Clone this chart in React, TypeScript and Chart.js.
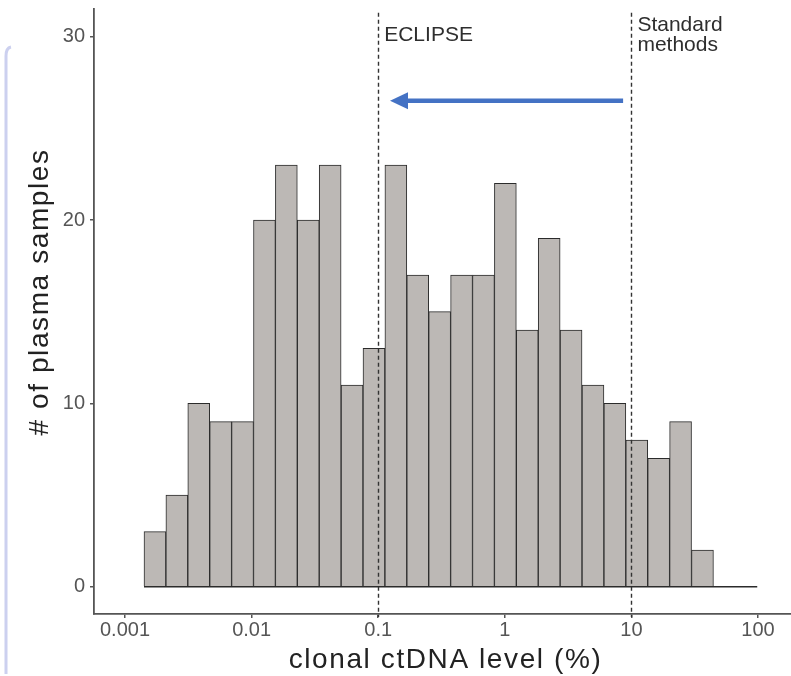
import React, { useEffect, useRef } from 'react';
import { Chart, registerables } from 'chart.js';

Chart.register(...registerables);

// ---- data ----
const counts = [3, 5, 10, 9, 9, 20, 23, 20, 23, 11, 13, 23, 17, 15, 17, 17, 22, 14, 19, 14, 11, 10, 8, 7, 9, 2, 0, 0];
const BIN_START_LOG = -2.85; // log10 of first bin's lower edge (%)
const BIN_WIDTH_LOG = 0.173; // bin width in decades

const xTickValues = [0.001, 0.01, 0.1, 1, 10, 100];
const xTickLabels = ['0.001', '0.01', '0.1', '1', '10', '100'];
const yTickValues = [0, 10, 20, 30];

const X_MIN = Math.pow(10, -3.2449);
const X_MAX = Math.pow(10, 2.2607);
const Y_MIN = -1.49;
const Y_MAX = 31.51;

const thresholdValues = [0.1, 10];
const thresholdLabels = [['ECLIPSE'], ['Standard', 'methods']];
const thresholdLabelY = [[29.77], [30.3, 29.22]];
const VLINE_TOP = 31.3;
const VLINE_BOTTOM = -1.65;

const ARROW_FROM = 8.6;
const ARROW_TO = 0.124;
const ARROW_Y = 26.5;

const X_TITLE = 'clonal ctDNA level (%)';
const Y_TITLE = '# of plasma samples';

// ---- derived chart tables ----
const binCenters = counts.map((_, i) => Math.pow(10, BIN_START_LOG + (i + 0.5) * BIN_WIDTH_LOG));
const barData = counts.map((c, i) => ({ x: binCenters[i], y: c > 0 ? c : null }));
const baselineData = [
  { x: Math.pow(10, BIN_START_LOG), y: 0 },
  { x: Math.pow(10, BIN_START_LOG + counts.length * BIN_WIDTH_LOG), y: 0 },
];

const FONT = '"Liberation Sans", Arial, Helvetica, sans-serif';

const annotationPlugin = {
  id: 'annotations',
  beforeDraw(chart: any) {
    const { ctx } = chart;
    ctx.save();
    ctx.fillStyle = '#ffffff';
    ctx.fillRect(0, 0, chart.width, chart.height);
    // faint slide border at the far left of the screenshot
    ctx.strokeStyle = '#ccd0ef';
    ctx.lineWidth = 3;
    ctx.beginPath();
    ctx.moveTo(11, 47);
    ctx.quadraticCurveTo(6, 48, 6, 56);
    ctx.lineTo(6, 674);
    ctx.stroke();
    ctx.restore();
  },
  afterDatasetsDraw(chart: any) {
    const { ctx, scales } = chart;
    const x = scales.x;
    const y = scales.y;
    ctx.save();
    // dashed threshold lines
    ctx.strokeStyle = '#333333';
    ctx.lineWidth = 1.4;
    ctx.setLineDash([4, 3]);
    thresholdValues.forEach((v) => {
      const px = Math.round(x.getPixelForValue(v)) + 0.5;
      ctx.beginPath();
      ctx.moveTo(px, y.getPixelForValue(VLINE_TOP));
      ctx.lineTo(px, y.getPixelForValue(VLINE_BOTTOM));
      ctx.stroke();
    });
    ctx.setLineDash([]);
    // labels
    ctx.fillStyle = '#2e2e2e';
    ctx.textAlign = 'left';
    ctx.textBaseline = 'alphabetic';
    ctx.font = `21px ${FONT}`;
    thresholdValues.forEach((v, i) => {
      const px = x.getPixelForValue(v) + 6;
      thresholdLabels[i].forEach((line, j) => {
        ctx.fillText(line, px, y.getPixelForValue(thresholdLabelY[i][j]));
      });
    });
    // blue arrow
    const ay = y.getPixelForValue(ARROW_Y);
    const x0 = x.getPixelForValue(ARROW_FROM);
    const x1 = x.getPixelForValue(ARROW_TO);
    ctx.strokeStyle = '#4472c4';
    ctx.fillStyle = '#4472c4';
    ctx.lineWidth = 4.5;
    ctx.beginPath();
    ctx.moveTo(x0, ay);
    ctx.lineTo(x1 + 14, ay);
    ctx.stroke();
    ctx.beginPath();
    ctx.moveTo(x1, ay);
    ctx.lineTo(x1 + 18, ay - 8.5);
    ctx.lineTo(x1 + 18, ay + 8.5);
    ctx.closePath();
    ctx.fill();
    ctx.restore();
  },
  afterDraw(chart: any) {
    const { ctx, chartArea } = chart;
    ctx.save();
    ctx.fillStyle = '#222222';
    ctx.font = `28px ${FONT}`;
    (ctx as any).letterSpacing = '1.6px';
    ctx.textAlign = 'center';
    ctx.textBaseline = 'middle';
    ctx.fillText(X_TITLE, (chartArea.left + chartArea.right) / 2 + 3, chart.height - 16);
    ctx.translate(40, chartArea.top + 283);
    ctx.rotate(-Math.PI / 2);
    ctx.fillText(Y_TITLE, 0, 0);
    ctx.restore();
  },
};

export default function App() {
  const ref = useRef<HTMLCanvasElement>(null);

  useEffect(() => {
    if (!ref.current) return;
    const chart = new Chart(ref.current, {
      type: 'bar',
      data: {
        datasets: [
          {
            type: 'bar',
            label: 'samples',
            data: barData as any,
            backgroundColor: '#bcb8b5',
            borderColor: '#2b2b2b',
            borderWidth: 1,
            borderSkipped: 'start',
            barPercentage: 1,
            categoryPercentage: 1,
            order: 1,
          } as any,
          {
            type: 'line',
            label: 'baseline',
            data: baselineData as any,
            borderColor: '#2b2b2b',
            borderWidth: 1.5,
            pointRadius: 0,
            fill: false,
            order: 0,
          } as any,
        ],
      },
      options: {
        responsive: false,
        animation: false,
        devicePixelRatio: 1,
        layout: { padding: { top: 9, left: 0, right: 0, bottom: 0 } },
        plugins: {
          legend: { display: false },
          tooltip: { enabled: false },
          title: { display: false },
        },
        scales: {
          x: {
            type: 'logarithmic',
            min: X_MIN,
            max: X_MAX,
            bounds: 'data',
            offset: false,
            afterBuildTicks: (s: any) => {
              s.ticks = xTickValues.map((v) => ({ value: v }));
            },
            afterFit: (s: any) => {
              s.height = 62;
              s.paddingLeft = 0;
              s.paddingRight = 0;
            },
            ticks: {
              autoSkip: false,
              maxRotation: 0,
              minRotation: 0,
              padding: 0,
              color: '#555555',
              font: { size: 20, family: FONT },
              callback: (v: any) => {
                const i = xTickValues.indexOf(Number(v));
                return i >= 0 ? xTickLabels[i] : '';
              },
            },
            grid: {
              display: true,
              drawOnChartArea: false,
              drawTicks: true,
              tickLength: 4,
              color: '#555555',
              lineWidth: 1.5,
              offset: false,
            },
            border: { display: true, color: '#555555', width: 1.8 },
          } as any,
          y: {
            type: 'linear',
            min: Y_MIN,
            max: Y_MAX,
            afterBuildTicks: (s: any) => {
              s.ticks = yTickValues.map((v) => ({ value: v }));
            },
            afterFit: (s: any) => {
              s.width = 94;
              s.paddingTop = 0;
              s.paddingBottom = 0;
            },
            ticks: {
              padding: 5,
              color: '#555555',
              font: { size: 20, family: FONT },
            },
            grid: {
              display: true,
              drawOnChartArea: false,
              drawTicks: true,
              tickLength: 4,
              color: '#555555',
              lineWidth: 1.5,
            },
            border: { display: true, color: '#555555', width: 1.8 },
          } as any,
        },
      },
      plugins: [annotationPlugin],
    });
    return () => chart.destroy();
  }, []);

  return (
    <div style={{ position: 'fixed', left: 0, top: 0, width: 791, height: 676, background: '#ffffff' }}>
      <canvas ref={ref} width={791} height={676} style={{ display: 'block', width: 791, height: 676 }} />
    </div>
  );
}
